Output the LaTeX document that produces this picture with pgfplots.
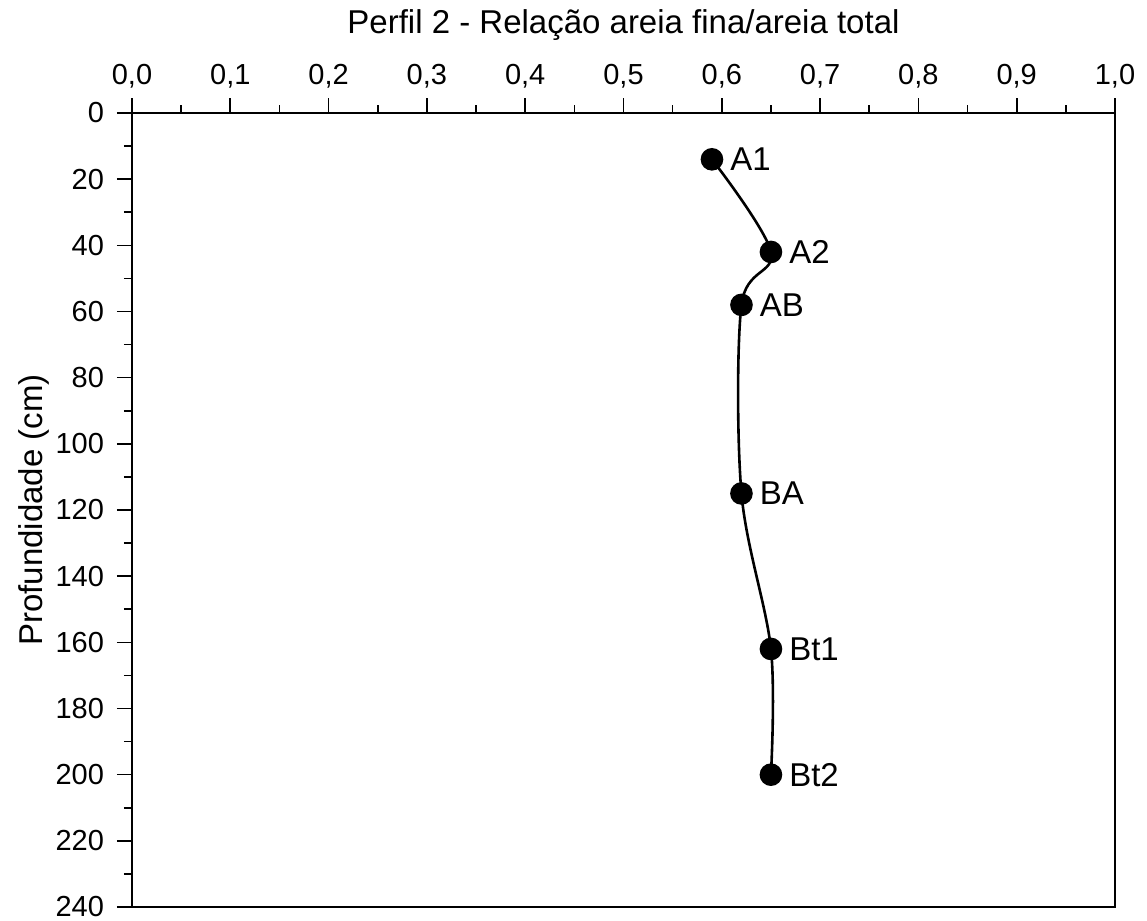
\documentclass[border=0pt]{standalone}
\usepackage{fontspec}
\setmainfont{Liberation Sans}
\usepackage{pgfplots}
\pgfplotsset{compat=1.18}

\begin{document}
\begin{tikzpicture}
\begin{axis}[
	name=ax,
	scale only axis,
	width=491.5pt, height=397pt,
	xmin=0, xmax=1, ymin=0, ymax=240,
	y dir=reverse,
	xtick={0,0.1,...,1.0},
	minor x tick num=1,
	ytick={0,20,...,240},
	minor y tick num=1,
	xtick pos=right, xticklabel pos=right,
	ytick pos=left,
	tick align=outside,
	major tick length=7.5pt,
	minor tick length=4pt,
	every tick/.style={black, line width=0.8pt},
	axis line style={line width=0.8pt},
	x tick label style={/pgf/number format/use comma, /pgf/number format/fixed,
		/pgf/number format/fixed zerofill, /pgf/number format/precision=1},
	/pgf/number format/assume math mode=true,
	tick label style={font=\fontsize{14.5}{17}\selectfont},
	xticklabel style={yshift=1.5pt},
	yticklabel style={xshift=-3pt},
	title={Perfil 2 - Relação areia fina/areia total},
	title style={at={(0.5,1)}, anchor=base, yshift=34pt, inner sep=0pt,
		font=\fontsize{16.5}{19}\selectfont},
	ylabel={Profundidade (cm)},
	ylabel style={at={(rel axis cs:0,0.5)}, anchor=base, yshift=44.5pt, inner sep=0pt,
		font=\fontsize{16.5}{19}\selectfont},
	clip=false,
	nodes near coords,
	point meta=explicit symbolic,
	every node near coord/.append style={anchor=west, inner sep=0pt, xshift=8.5pt,
		font=\fontsize{16.5}{19}\selectfont, text=black},
]
\addplot[black, line width=1.3pt, smooth, tension=0.55,
	mark=*, mark size=5pt, mark options={fill=black}]
	coordinates {
		(0.59,14) [A1]
		(0.65,42) [A2]
		(0.62,58) [AB]
		(0.62,115) [BA]
		(0.65,162) [Bt1]
		(0.65,200) [Bt2]
	};
\end{axis}
\pgfresetboundingbox
\path[use as bounding box] ([shift={(-66pt,-7pt)}]ax.south west)
	rectangle ([shift={(16pt,56.5pt)}]ax.north east);
\end{tikzpicture}
\end{document}
